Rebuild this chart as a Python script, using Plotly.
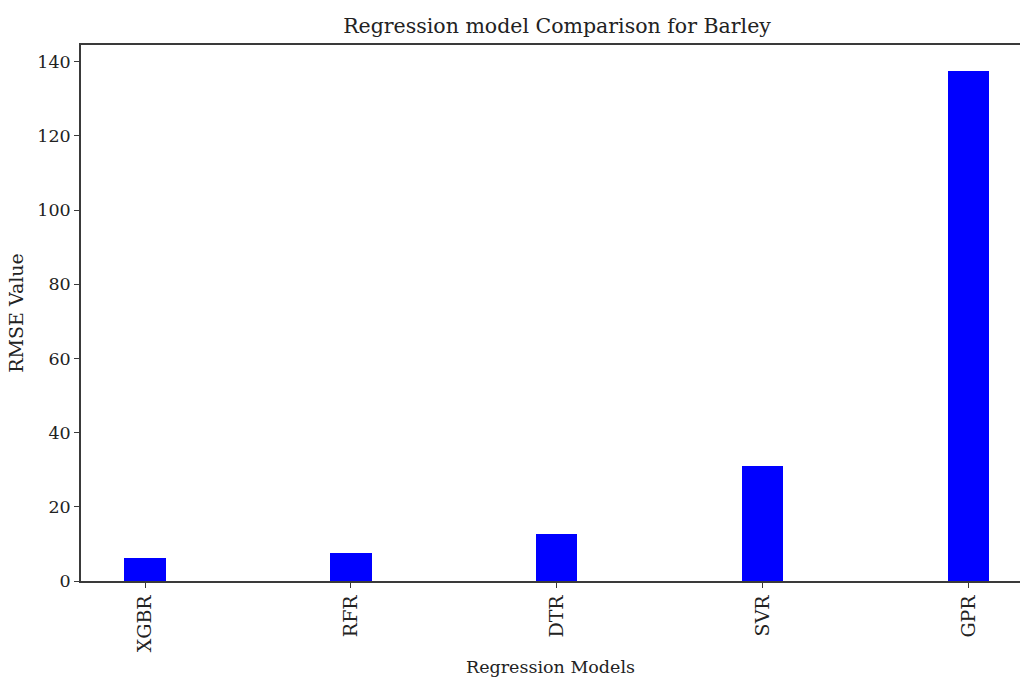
import plotly.graph_objects as go

models = ["XGBR", "RFR", "DTR", "SVR", "GPR"]
rmse = [6.1, 7.6, 12.6, 31.0, 137.6]
y_ticks = [0, 20, 40, 60, 80, 100, 120, 140]

FONT = "DejaVu Serif"
AX = "#3a3a3a"

W, H = 1020, 682

fig = go.Figure()
fig.add_trace(go.Bar(
    x=list(range(len(models))), y=rmse, width=0.2,
    marker=dict(color="#0000ff", line=dict(width=0)),
))

fig.update_layout(
    width=W, height=H,
    margin=dict(l=81, r=0, t=45, b=682 - 581),
    paper_bgcolor="white", plot_bgcolor="white",
    showlegend=False,
    font=dict(family=FONT, size=17, color="#222"),
    title=dict(text="Regression model Comparison for Barley", x=557 / W, xref="container",
               xanchor="center", y=1 - 26 / H, yref="container", yanchor="middle",
               font=dict(family=FONT, size=20.5, color="#222")),
    bargap=0,
)
fig.update_xaxes(
    range=[-0.311, 4.249], tickmode="array", tickvals=list(range(len(models))), ticktext=models,
    tickangle=-90, ticks="outside", ticklen=5, tickwidth=1.3, tickcolor=AX,
    tickfont=dict(family=FONT, size=19),
    showline=True, linecolor=AX, linewidth=1.5, mirror=True, showgrid=False, zeroline=False,
    title=dict(text="Regression Models", standoff=9, font=dict(family=FONT, size=17.5)),
)
fig.update_yaxes(
    range=[0, 144.5], tickmode="array", tickvals=y_ticks,
    ticks="outside", ticklen=5, tickwidth=1.3, tickcolor=AX,
    tickfont=dict(family=FONT, size=17.5),
    showline=True, linecolor=AX, linewidth=1.5, showgrid=False, zeroline=False,
    title=dict(text="RMSE Value", standoff=9, font=dict(family=FONT, size=19)),
)

fig.write_html(
    "out.html",
    config={"displayModeBar": False},
    post_script="document.body.style.margin='0';document.documentElement.style.overflow='hidden';document.body.style.overflow='hidden';",
)
